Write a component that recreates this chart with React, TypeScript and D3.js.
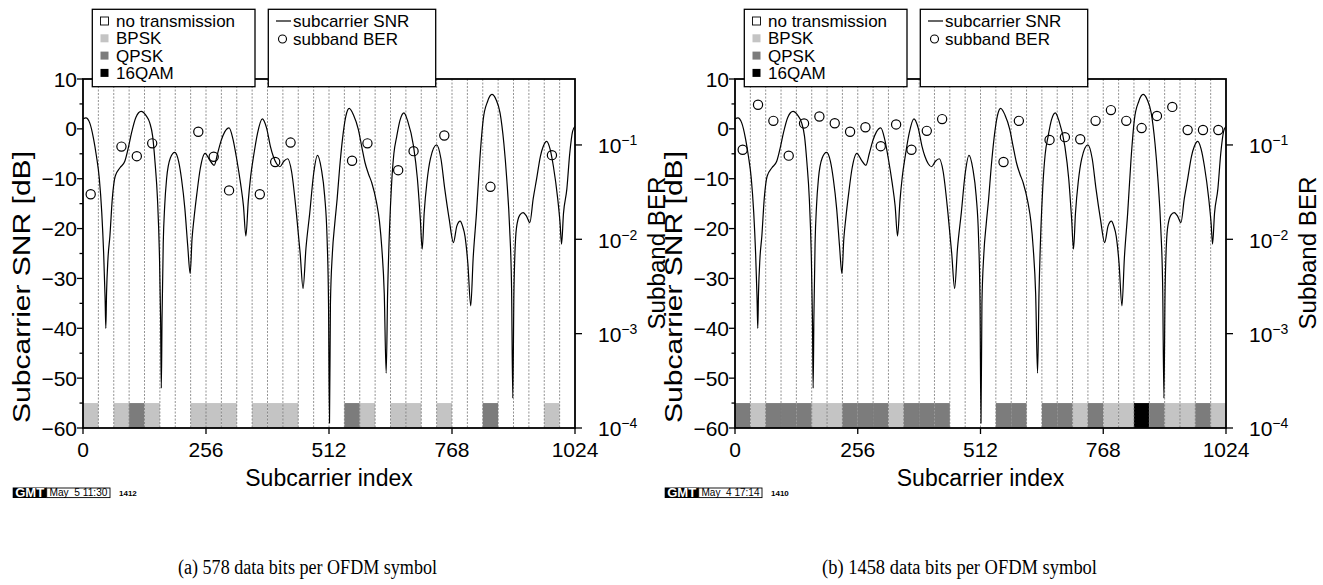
import * as d3 from 'd3';

// subcarrier SNR [dB], knots at (subcarrier index, dB)
const snrCurve: [number, number][] = [
  [0, 2.0], [6, 2.2], [14, 1.2], [22, -2], [28, -5.5], [34, -10], [39, -16.7], [43, -25], [46, -34],
  [47.5, -40], [49, -33], [52, -26], [56, -21.5], [61, -14], [67, -9.5], [77, -7.8], [87, -6.5],
  [95, -3.5], [101, -0.8], [110, 2.3], [121, 3.5], [131, 2.7], [139, 1.2], [145, -1.5], [150, -6.8],
  [155, -14], [159, -25], [161.5, -38], [163, -52], [164.5, -38], [167, -23], [170, -15.5], [174, -10],
  [182, -5.8], [191, -4.7], [199, -6.5], [205, -10], [212, -16], [218, -23.5], [223, -29], [227, -22],
  [231, -18], [237, -13], [244, -8], [254, -4.9], [264, -6.3], [273, -7.3], [280, -5], [287, -2.5],
  [295, -0.6], [304, 0.2], [312, -2], [320, -6.1], [328, -11], [334, -15.5], [339, -21.5], [344, -14.5],
  [349, -9.5], [355, -5.5], [363, -1], [373, 2], [382, 0.2], [390, -3.5], [396, -5.5], [403, -7],
  [410, -7.6], [418, -6.5], [426, -6], [434, -8.5], [444, -16.8], [452, -25], [458, -32], [464, -24],
  [472, -16.8], [480, -9], [488, -5.3], [496, -8], [503, -13.5], [508, -22], [511, -35], [513, -59],
  [515, -35], [519, -25], [524, -19], [529, -14], [534, -8], [540, -2.1], [547, 2.5], [554, 4.1],
  [563, 2.8], [573, -0.1], [580, -3.5], [587, -6.8], [594, -9], [601, -10.8], [611, -14.8], [617, -18.5],
  [622, -24], [627, -33], [631, -49], [634, -33], [638, -20], [642, -11.5], [647, -5], [653, -1.5],
  [660, 1.8], [668, 3.2], [676, 1.5], [688, -3.5], [696, -10], [702, -18], [706, -24.1], [710, -17],
  [716, -10.5], [723, -6], [736, -3.2], [745, -6], [753, -12.1], [762, -18], [771, -22.8], [778, -19.5],
  [785, -18.5], [790, -19.5], [795, -21.5], [801, -27], [807, -35.5], [812, -26], [819, -16.8], [826, -6],
  [833, 1.9], [842, 5.5], [851, 6.9], [860, 5.8], [868, 3.2], [876, -3], [882, -10.1], [888, -20],
  [892, -32], [894.5, -54], [897, -32], [902, -20], [909, -17.3], [916, -16.8], [923, -17.5], [930, -18.8],
  [937, -14], [944, -10.1], [952, -5.5], [958, -3.5], [965, -2.5], [972, -4], [979, -7.5], [988, -14],
  [993, -19], [996, -23.1], [1000, -17], [1007, -12.1], [1013, -5], [1019, -0.5], [1024, 0.5],
];

// modulation per subband: 0 none, 1 BPSK, 2 QPSK, 3 16QAM
const modA = [1, 0, 1, 2, 1, 0, 0, 1, 1, 1, 0, 1, 1, 1, 0, 0, 0, 2, 1, 0, 1, 1, 0, 1, 0, 0, 2, 0, 0, 0, 1, 0];
const modB = [2, 1, 2, 2, 2, 1, 1, 2, 2, 2, 1, 2, 2, 2, 0, 0, 0, 2, 2, 0, 2, 2, 1, 2, 1, 1, 3, 2, 1, 1, 2, 1];

// subband BER (null = no transmission)
const berA = [0.030, null, 0.096, 0.076, 0.104, null, null, 0.138, 0.075, 0.033, null, 0.030, 0.066, 0.106,
  null, null, null, 0.068, 0.104, null, 0.054, 0.086, null, 0.126, null, null, 0.036, null, null, null, 0.078, null];
const berB = [0.089, 0.267, 0.18, 0.077, 0.169, 0.2, 0.17, 0.138, 0.154, 0.097, 0.165, 0.089, 0.141, 0.188,
  null, null, null, 0.066, 0.18, null, 0.113, 0.121, 0.115, 0.18, 0.234, 0.18, 0.151, 0.203, 0.253, 0.144, 0.144, 0.144];

const xTicks = [0, 256, 512, 768, 1024];
const berTicks = [1e-4, 1e-3, 1e-2, 1e-1];
const modNames = ['no transmission', 'BPSK', 'QPSK', '16QAM'];
const modFill = ['#ffffff', '#c4c4c4', '#7c7c7c', '#000000'];

const TOP = 79;
const BOTTOM = 428;
const SANS = '"Liberation Sans", Arial, Helvetica, sans-serif';

const fmt = v => (v < 0 ? '\u2212' + Math.abs(v) : String(v));

const Panel = ({ id, left, right, mods, ber, stampDate, stampId, caption, captionX, captionLen }) => {
  const x = d3.scaleLinear().domain([0, 1024]).range([left, right]);
  const y = d3.scaleLinear().domain([-60, 10]).range([BOTTOM, TOP]);
  const yb = d3.scaleLog().domain([1e-4, 0.5]).range([BOTTOM, TOP]);
  const line = d3.line<[number, number]>().x(d => x(d[0])).y(d => y(d[1])).curve(d3.curveMonotoneX);
  const bounds = d3.range(32, 1024, 32);
  const dx = left - 83;

  return (
    <g>
      <defs>
        <clipPath id={id}>
          <rect x={left} y={TOP} width={right - left} height={BOTTOM - TOP} />
        </clipPath>
      </defs>

      {/* modulation bars */}
      {mods.map((m, k) => m > 0 && (
        <rect key={k} x={x(k * 32)} y={y(-55)} width={x((k + 1) * 32) - x(k * 32)} height={y(-60) - y(-55)}
          fill={modFill[m]} />
      ))}

      {/* subband boundaries */}
      {bounds.map(b => (
        <line key={b} x1={x(b)} x2={x(b)} y1={TOP} y2={BOTTOM} stroke="#777" strokeWidth={0.8} strokeDasharray="2,1.5" />
      ))}

      <path d={line(snrCurve)} fill="none" stroke="#000" strokeWidth={1.2} clipPath={`url(#${id})`} />

      {ber.map((v, k) => v != null && (
        <circle key={k} cx={x(k * 32 + 16)} cy={yb(v)} r={4.6} fill="none" stroke="#000" strokeWidth={1.2} />
      ))}

      {/* frame */}
      <rect x={left} y={TOP} width={right - left} height={BOTTOM - TOP} fill="none" stroke="#000" strokeWidth={1.8} />

      {/* left axis */}
      {d3.range(-60, 11, 5).map(v => (
        <line key={v} x1={left} x2={left - (v % 10 === 0 ? 6 : 3.5)} y1={y(v)} y2={y(v)} stroke="#000" strokeWidth={1.3} />
      ))}
      {d3.range(-60, 11, 10).map(v => (
        <text key={v} x={left - 6} y={y(v)} dy="0.36em" textAnchor="end" fontSize={21} fontFamily={SANS}>{fmt(v)}</text>
      ))}

      {/* bottom axis */}
      {xTicks.map(t => (
        <g key={t}>
          <line x1={x(t)} x2={x(t)} y1={BOTTOM} y2={BOTTOM + 6} stroke="#000" strokeWidth={1.3} />
          <text x={x(t)} y={457} textAnchor="middle" fontSize={21} fontFamily={SANS}>{t}</text>
        </g>
      ))}
      <text x={(left + right) / 2} y={486} textAnchor="middle" fontSize={23} fontFamily={SANS}>Subcarrier index</text>

      {/* right axis */}
      {berTicks.map(t => (
        <g key={t}>
          <line x1={right} x2={right + 7} y1={yb(t)} y2={yb(t)} stroke="#000" strokeWidth={1.3} />
          <text x={right + 23} y={yb(t)} dy="0.4em" fontSize={21} fontFamily={SANS}>
            10<tspan dy={-8} fontSize={14}>{fmt(Math.round(Math.log10(t)))}</tspan>
          </text>
        </g>
      ))}

      <text transform={`translate(${left - 61},287) rotate(-90)`} textAnchor="middle" dy="0.36em"
        fontSize={23} fontFamily={SANS} textLength={272} lengthAdjust="spacingAndGlyphs">Subcarrier SNR [dB]</text>
      <text transform={`translate(${right + 82},253) rotate(-90)`} textAnchor="middle" dy="0.36em"
        fontSize={23} fontFamily={SANS} textLength={153} lengthAdjust="spacingAndGlyphs">Subband BER</text>

      {/* legends */}
      <g transform={`translate(${dx},0)`}>
        <rect x={92.3} y={9.3} width={162.7} height={77.4} fill="#fff" stroke="#000" strokeWidth={1.3} />
        {modNames.map((n, i) => (
          <g key={n}>
            <rect x={100.5} y={17 + i * 17.3} width={8} height={8} fill={modFill[i]} stroke={i === 0 ? '#000' : 'none'} strokeWidth={0.9} />
            <text x={116} y={27 + i * 17.3} fontSize={17} fontFamily={SANS}>{n}</text>
          </g>
        ))}
        <rect x={268.3} y={9.3} width={167.4} height={77.4} fill="#fff" stroke="#000" strokeWidth={1.3} />
        <line x1={276} x2={291} y1={21} y2={21} stroke="#000" strokeWidth={1.2} />
        <text x={293} y={27} fontSize={17} fontFamily={SANS}>subcarrier SNR</text>
        <circle cx={282.5} cy={39} r={4} fill="none" stroke="#000" strokeWidth={1.1} />
        <text x={293} y={44.5} fontSize={17} fontFamily={SANS}>subband BER</text>
      </g>

      {/* GMT stamp */}
      <g transform={`translate(${dx},0)`}>
        <rect x={12.7} y={487.5} width={34} height={10.5} fill="#000" />
        <text x={29.7} y={497} textAnchor="middle" fontSize={12.5} fontWeight="bold" fill="#fff" fontFamily={SANS}
          textLength={29} lengthAdjust="spacingAndGlyphs">GMT</text>
        <rect x={46.7} y={488} width={63.3} height={9.6} fill="#fff" stroke="#000" strokeWidth={0.9} />
        <text x={49.5} y={496.3} fontSize={10.5} fontFamily={SANS} xmlSpace="preserve"
          textLength={58} lengthAdjust="spacingAndGlyphs">{stampDate}</text>
        <text x={119} y={496} fontSize={8} fontWeight="bold" fontFamily={SANS}>{stampId}</text>
      </g>

      <text x={captionX} y={574} fontSize={20} fontFamily='"Liberation Serif", "DejaVu Serif", serif'
        textLength={captionLen} lengthAdjust="spacingAndGlyphs">{caption}</text>
    </g>
  );
};

export default function App() {
  return (
    <svg width={1323} height={585} style={{ position: 'absolute', left: 0, top: 0, background: '#fff' }}>
      <rect width={1323} height={585} fill="#fff" />
      <Panel id="clipA" left={83} right={575} mods={modA} ber={berA} stampDate="May  5 11:30" stampId="1412"
        caption="(a) 578 data bits per OFDM symbol" captionX={178} captionLen={259} />
      <Panel id="clipB" left={735} right={1226} mods={modB} ber={berB} stampDate="May  4 17:14" stampId="1410"
        caption="(b) 1458 data bits per OFDM symbol" captionX={822} captionLen={275} />
    </svg>
  );
}
